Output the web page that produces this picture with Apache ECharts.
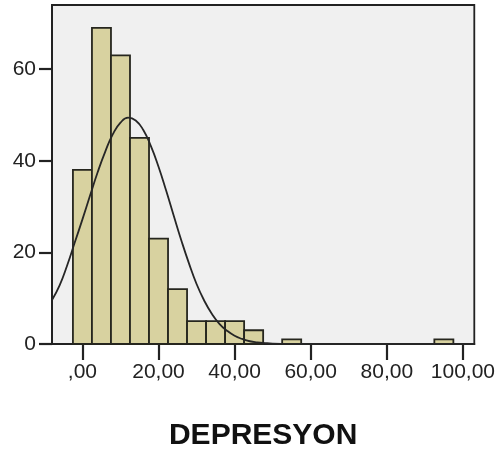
<!DOCTYPE html>
<html>
<head>
<meta charset="utf-8">
<script src="https://cdn.jsdelivr.net/npm/echarts@6/dist/echarts.min.js"></script>
<style>html,body{margin:0;padding:0;background:#fff}#c{width:498px;height:459px}</style>
</head>
<body>
<div id="c"></div>
<script>
// Histogram bins (center, count), bin width 5
const binCenters = [0, 5, 10, 15, 20, 25, 30, 35, 40, 45, 55, 95];
const binCounts  = [38, 69, 63, 45, 23, 12, 5, 5, 5, 3, 1, 1];
const binWidth = 5;
// Normal curve
const curveX = [-8, -6, -4, -2, 0, 2, 4, 6, 8, 10, 12, 14, 16, 18, 20, 22, 24, 26, 28, 30, 32, 34, 36, 38, 40, 42, 44, 46, 48, 50, 55, 60, 70, 80, 90, 100, 103];
const curveY = [9.6, 12.8, 17.2, 22.2, 27.2, 32.4, 37.5, 42.0, 45.8, 48.3, 49.4, 48.8, 46.7, 43.2, 38.7, 33.5, 28.0, 22.6, 17.6, 13.1, 9.5, 6.6, 4.4, 2.9, 1.8, 1.1, 0.6, 0.35, 0.2, 0.1, 0.02, 0, 0, 0, 0, 0, 0];
// Axis ticks
const xTicks = [0, 20, 40, 60, 80, 100];
const xTickLabels = [',00', '20,00', '40,00', '60,00', '80,00', '100,00'];
const yTicks = [0, 20, 40, 60];
const xTitle = 'DEPRESYON';

const font = 'Liberation Sans, Arial, sans-serif';
const chart = echarts.init(document.getElementById('c'), null, {renderer: 'canvas'});
chart.setOption({
  animation: false,
  grid: {left: 52, right: 15, top: 5, bottom: 115, show: true, backgroundColor: '#f0f0f0', borderColor: '#222', borderWidth: 1.8},
  xAxis: {
    type: 'value', min: -8, max: 103,
    name: xTitle, nameLocation: 'middle', nameGap: 77,
    nameTextStyle: {fontFamily: font, fontSize: 30, fontWeight: 'bold', color: '#111'},
    axisLine: {show: true, onZero: false, lineStyle: {color: '#222', width: 2}},
    axisTick: {show: true, length: 16, lineStyle: {color: '#222', width: 2.2}, customValues: xTicks},
    axisLabel: {show: true, margin: 18, fontFamily: font, fontSize: 21, color: '#222', customValues: xTicks,
      formatter: v => { const i = xTicks.indexOf(v); return i >= 0 ? xTickLabels[i] : ''; }},
    splitLine: {show: false}
  },
  yAxis: {
    type: 'value', min: 0, max: 74,
    axisLine: {show: true, onZero: false, lineStyle: {color: '#222', width: 2}},
    axisTick: {show: true, length: 13, lineStyle: {color: '#222', width: 2.2}, customValues: yTicks},
    axisLabel: {show: true, margin: 16, fontFamily: font, fontSize: 21, color: '#222', customValues: yTicks},
    splitLine: {show: false}
  },
  series: [
    {
      type: 'custom',
      data: binCenters.map((c, i) => [c, binCounts[i]]),
      renderItem: function (params, api) {
        const c = api.value(0), h = api.value(1);
        const p0 = api.coord([c - binWidth / 2, h]);
        const p1 = api.coord([c + binWidth / 2, 0]);
        return {
          type: 'rect',
          shape: {x: p0[0], y: p0[1], width: p1[0] - p0[0], height: p1[1] - p0[1]},
          style: {fill: '#d8d2a0', stroke: '#26261e', lineWidth: 1.8}
        };
      },
      z: 2
    },
    {
      type: 'line',
      data: curveX.map((x, i) => [x, curveY[i]]),
      smooth: true,
      showSymbol: false,
      lineStyle: {color: '#262626', width: 1.8},
      z: 3
    }
  ]
});
</script>
</body>
</html>
